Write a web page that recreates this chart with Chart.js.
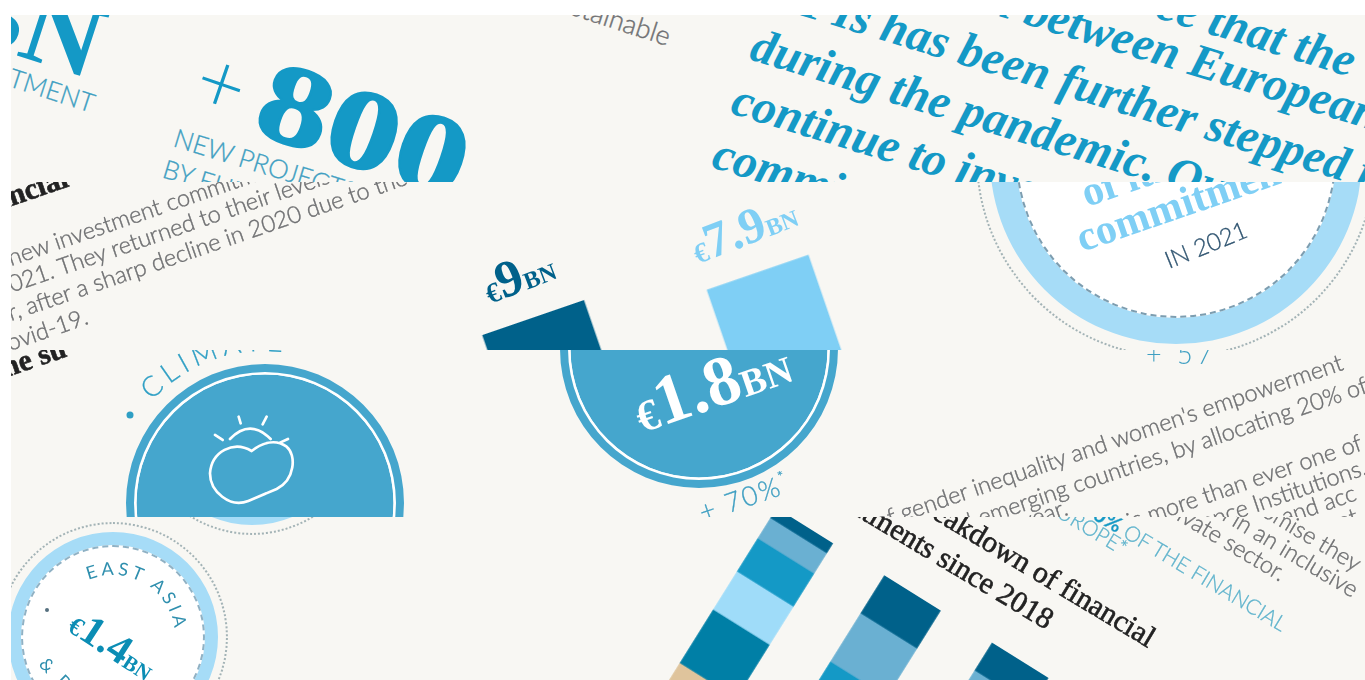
<!DOCTYPE html>
<html lang="en">
<head>
<meta charset="UTF-8" />
<title>Financial commitments</title>
<script src="https://cdn.jsdelivr.net/npm/chart.js"></script>
<style>
  html, body { margin: 0; background: #fff; overflow: hidden; }
  .strip { position: absolute; left: 0; top: 0; width: 1365px; height: 680px; background: #f8f7f3; }
  #s1 { clip-path: inset(15px 0 498px 11px); }
  #s2 { clip-path: inset(182px 0 330px 11px); }
  #s3 { clip-path: inset(350px 0 163px 11px); }
  #s4 { clip-path: inset(517px 0 0 11px); }
  .strip svg, .strip canvas, .strip i { position: absolute; }
  .strip svg { left: 0; top: 0; }
  .strip i { box-sizing: border-box; border-radius: 50%; }
  text { font-family: Lato, "Open Sans", sans-serif; white-space: pre; }
  .body { font-size: 23.5px; font-weight: 300; fill: #6f7072; stroke: #6f7072; stroke-width: .4px; }
  .lead { font: italic bold 48px "Liberation Serif", serif; fill: #1499c6; }
  .num { font-family: "Liberation Serif", serif; font-weight: bold; }
  .black { font: 30px "Liberation Serif", serif; fill: #222; stroke: #222; stroke-width: .6px; }
  .caps { font-size: 26px; font-weight: 300; fill: #3f9fc2; stroke: #3f9fc2; stroke-width: .3px; }
  .small { font-size: 21px; fill: #5fb3cc; stroke: #5fb3cc; }
</style>
</head>
<body>
  <div class="strip" id="s1">
    <svg width="1365" height="680">
      <text class="num" transform="translate(90 79) rotate(18) scale(1.05 1)" text-anchor="end" font-size="104" fill="#1499c6">BN</text>
      <text class="caps" transform="translate(91 113) rotate(18)" text-anchor="end">INVESTMENT</text>
      <text transform="translate(189 103) rotate(19)" font-size="84" font-weight="300" fill="#1499c6">+</text>
      <text class="num" transform="translate(250 131) rotate(19) scale(1.26 1)" font-size="114" fill="#1499c6" stroke="#1499c6" stroke-width="2">800</text>
      <text class="caps" transform="translate(172 146) rotate(17)">NEW PROJECTS</text>
      <text class="caps" transform="translate(161 177) rotate(17)">BY EUROPEAN DFIs</text>
      <text class="body" style="font-size:27px" transform="translate(667 46) rotate(18)" text-anchor="end">sustainable</text>
      <text class="lead" transform="translate(1350 77) rotate(17)" text-anchor="end">we are pleased to see that the</text>
      <text class="lead" transform="translate(786 -49) rotate(17)">cooperation between European</text>
      <text class="lead" transform="translate(767 5) rotate(17)">DFIs has been further stepped up</text>
      <text class="lead" transform="translate(748 59) rotate(17)">during the pandemic. Our members</text>
      <text class="lead" transform="translate(729 113) rotate(17)">continue to invest</text>
      <text class="lead" transform="translate(710 167) rotate(17)">commit</text>
    </svg>
  </div>

  <div class="strip" id="s2">
    <svg width="1365" height="680">
      <text class="black" style="font-weight:bold" transform="translate(70 186) rotate(-19)" text-anchor="end">financial</text>
      <text class="body" transform="translate(11 266) rotate(-19)">new investment commitments</text>
      <text class="body" transform="translate(-1 297) rotate(-19)">2021. They returned to their levels</text>
      <text class="body" transform="translate(11 321) rotate(-19)">r, after a sharp decline in 2020 due to the</text>
      <text class="body" transform="translate(10 351) rotate(-19)">ovid-19.</text>
      <text class="num" transform="translate(490 304) rotate(-21)" fill="#00618a"><tspan font-size="28">€</tspan><tspan font-size="52">9</tspan><tspan font-size="24">BN</tspan></text>
      <text class="num" transform="translate(698 264) rotate(-21)" fill="#7fcff5"><tspan font-size="28">€</tspan><tspan font-size="50">7.9</tspan><tspan font-size="24">BN</tspan></text>
      <text class="num" transform="translate(1087 207) rotate(-19)" font-size="42" fill="#7fcff5">of its</text>
      <text class="num" transform="translate(1082 252) rotate(-19)" font-size="42" fill="#7fcff5">commitments</text>
      <text transform="translate(1169 269) rotate(-22)" font-size="24" font-weight="300" fill="#2f5470" stroke="#2f5470" stroke-width=".3">IN 2021</text>
    </svg>
  </div>

  <div class="strip" id="s3">
    <svg width="1365" height="680">
      <defs><path id="climateArc" d="M112.5 503 A152 152 0 0 1 416.5 503" /></defs>
      <circle cx="130" cy="415" r="3.5" fill="#2f9fc4" />
      <text font-size="28" font-weight="300" letter-spacing="5" fill="#2f9fc4" stroke="#2f9fc4" stroke-width=".3"><textPath href="#climateArc" startOffset="112">CLIMATE</textPath></text>
      <g fill="none" stroke="#fff" stroke-width="2.7" stroke-linecap="round" transform="translate(0 345) scale(.3333)">
        <path stroke-width="8" d="M755 318 C700 285 635 320 630 385 C630 440 690 490 745 468 L830 432 C885 405 890 330 860 305 C825 280 785 295 755 318 Z" />
        <path stroke-width="8" d="M690 282 Q750 220 812 282 M716 215 L722 235 M800 215 L788 238 M645 270 L668 285 M840 293 L864 282" />
      </g>
      <text class="num" transform="translate(352 548) rotate(-19)" text-anchor="end" fill="#fff" font-size="60">€1.2<tspan font-size="36">BN</tspan></text>
      <text class="num" transform="translate(642 433) rotate(-19)" fill="#fff"><tspan font-size="44">€</tspan><tspan font-size="70">1.8</tspan><tspan font-size="38">BN</tspan></text>
      <text transform="translate(703 522) rotate(-19)" font-size="27" font-weight="300" letter-spacing="2" fill="#3f9fc2" stroke="#3f9fc2" stroke-width=".3">+ 70%<tspan font-size="15" dy="-12">*</tspan></text>
      <text class="black" style="font-weight:bold" transform="translate(68 356) rotate(-19)" text-anchor="end">the su</text>
      <text transform="translate(1146 364)" font-size="27" font-weight="300" letter-spacing="4" fill="#3f9fc2">+ 57</text>
      <text class="body" transform="translate(878 530) rotate(-19)">of gender inequality and women's empowerment</text>
      <text class="body" transform="translate(940 540) rotate(-19)">and emerging countries, by allocating 20% of</text>
      <text class="body" transform="translate(1024 530) rotate(-19)">year.</text>
      <text class="body" transform="translate(1130 530) rotate(-19)">is more than ever one of the</text>
      <text class="body" transform="translate(1205 530) rotate(-19)">ance Institutions, the</text>
      <text class="body" transform="translate(1285 525) rotate(-19)">and acc</text>
      <text class="body" transform="translate(1340 530) rotate(-19)">nt</text>
    </svg>
  </div>

  <div class="strip" id="s4">
    <svg width="1365" height="680">
      <defs><path id="eastAsiaArc" d="M51 637 A62 62 0 0 1 175 637" /></defs>
      <text font-size="18" letter-spacing="3.5" fill="#2f8fae"><textPath href="#eastAsiaArc" startOffset="72">EAST ASIA</textPath></text>
      <circle cx="47" cy="610" r="2" fill="#56707f" />
      <text class="num" transform="translate(66 630) rotate(33)" fill="#0b8db4"><tspan font-size="26">€</tspan><tspan font-size="42">1.4</tspan><tspan font-size="21">BN</tspan></text>
      <text transform="translate(38 665) rotate(45)" font-size="18" letter-spacing="3.5" fill="#2f8fae">&amp; PACIFIC</text>
      <text class="black" transform="translate(1148 648) rotate(31)" text-anchor="end">Breakdown of financial</text>
      <text class="black" transform="translate(1046 630) rotate(31)" text-anchor="end">commitments since 2018</text>
      <text class="caps small" transform="translate(1122 556) rotate(31)" text-anchor="end">EUROPE*</text>
      <text class="caps small" transform="translate(1281 632) rotate(31)" text-anchor="end"><tspan font-weight="700" fill="#1499c6">70%</tspan> OF THE FINANCIAL</text>
      <text class="body" transform="translate(1280 582) rotate(31)" text-anchor="end">the private sector.</text>
      <text class="body" transform="translate(1352 598) rotate(31)" text-anchor="end">growth in an inclusive</text>
      <text class="body" transform="translate(1355 572) rotate(31)" text-anchor="end">and promise they</text>
    </svg>
  </div>

  <script>
    // Regional amounts behind the round badges, in EUR bn
    const climateAmount = [1.2];
    const africaAmount = [1.8];
    const totalAmount = [12];
    const eastAsiaAmount = [1.4];
    const latinAmount = [1];

    // Investment commitments by type, EUR bn
    const splitLabels = ['€9BN', '€7.9BN'];
    const splitValues = [9, 7.9];

    // Breakdown of financial commitments since 2018, percent of each year
    const years = ['2019', '2020', '2021'];
    const tanShare = [39, 16, 20];
    const tealShare = [21, 20, 20];
    const paleShare = [15, 10, 15];
    const blueShare = [13, 20, 20];
    const steelShare = [8, 19, 14];
    const darkShare = [4, 15, 11];

    const blank = { display: false, grid: { display: false } };

    function addCanvas(strip, w, h, x, y, angle) {
      const c = document.createElement('canvas');
      c.width = w;
      c.height = h;
      c.style.cssText = `left:${x}px;top:${y}px;width:${w}px;height:${h}px;transform-origin:0 0;transform:rotate(${angle}deg)`;
      const el = document.getElementById(strip);
      el.insertBefore(c, el.firstChild);
      return c;
    }

    // A solid badge made of stacked doughnut rings, outermost ring first
    function badge(strip, cx, cy, r, amount, rings) {
      const c = addCanvas(strip, r * 2, r * 2, cx - r, cy - r, 0);
      new Chart(c, {
        type: 'doughnut',
        data: {
          labels: ['amount'],
          datasets: rings.map(ring => ({
            data: amount, backgroundColor: ring[0], weight: ring[1], borderWidth: 0
          }))
        },
        options: {
          responsive: false, animation: false, cutout: 0,
          plugins: { legend: { display: false }, tooltip: { enabled: false } }
        }
      });
    }

    function dotted(strip, cx, cy, r, style, color) {
      const d = document.createElement('i');
      d.style.cssText = `left:${cx - r}px;top:${cy - r}px;width:${r * 2}px;height:${r * 2}px;border:${style} ${color}`;
      const svg = document.querySelector(`#${strip} svg`);
      svg.parentNode.insertBefore(d, svg);
    }

    new Chart(addCanvas('s2', 454, 274, 417.2, 329.2, -19), {
      type: 'bar',
      data: {
        labels: splitLabels,
        datasets: [{ data: splitValues, backgroundColor: ['#00618a', '#7fcff5'], barThickness: 107, borderWidth: 0 }]
      },
      options: {
        responsive: false, animation: false,
        layout: { padding: 0 },
        scales: { x: blank, y: { ...blank, min: 0, max: 10 } },
        plugins: { legend: { display: false }, tooltip: { enabled: false } }
      }
    });

    const stacks = [
      [tanShare, '#dfc49c'], [tealShare, '#007fa6'], [paleShare, '#9fdcf9'],
      [blueShare, '#1499c6'], [steelShare, '#6ab0d2'], [darkShare, '#00618a']
    ];
    new Chart(addCanvas('s4', 381, 300, 751.4, 491.5, 32), {
      type: 'bar',
      data: {
        labels: years,
        datasets: stacks.map(s => ({ data: s[0], backgroundColor: s[1], barThickness: 66, borderWidth: 0 }))
      },
      options: {
        responsive: false, animation: false,
        layout: { padding: 0 },
        scales: { x: { ...blank, stacked: true }, y: { ...blank, stacked: true, min: 0, max: 100 } },
        plugins: { legend: { display: false }, tooltip: { enabled: false } }
      }
    });

    const discRings = [['#45a6cd', 8], ['#ffffff', 2.5], ['#45a6cd', 128.5]];
    badge('s3', 264.5, 503, 139, climateAmount, discRings);
    badge('s3', 699, 349, 139, africaAmount, discRings);

    badge('s2', 1176, 158, 186, totalAmount, [['#a6dcf7', 26], ['#ffffff', 160]]);
    dotted('s2', 1176, 158, 160, '2px dashed', '#7c9db0');
    dotted('s2', 1176, 158, 200, '2px dotted', '#a3b3b6');

    badge('s4', 113, 637, 105, eastAsiaAmount, [['#a6dcf7', 13], ['#ffffff', 92]]);
    dotted('s4', 113, 637, 92, '2px dashed', '#8fb1c4');
    dotted('s4', 113, 637, 115, '2px dotted', '#a3b3b6');

    badge('s4', 252, 418, 107, latinAmount, [['#a6dcf7', 13], ['#ffffff', 94]]);
    dotted('s4', 252, 418, 117, '2px dotted', '#a3b3b6');
  </script>
</body>
</html>
